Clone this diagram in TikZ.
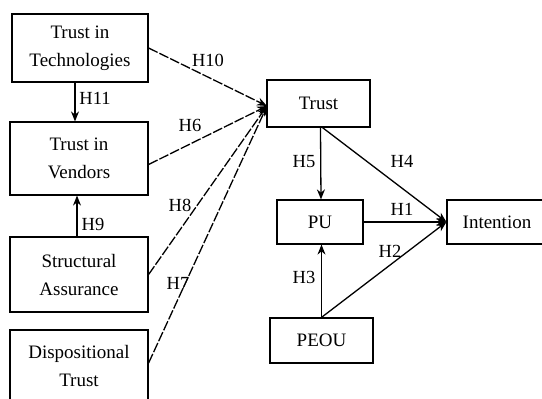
\documentclass[tikz,border=0pt]{standalone}
\usepackage{fontspec}
\setmainfont{Liberation Serif}
\usetikzlibrary{arrows.meta}
\begin{document}
\begin{tikzpicture}[x=1pt,y=-1pt,
  box/.style={draw, line width=1.2pt, align=center, inner sep=0pt,
    font=\fontsize{19}{28}\selectfont},
  hlab/.style={font=\fontsize{18.5}{20}\selectfont, inner sep=1pt},
  link/.style={line width=1.3pt, -{Stealth[length=10pt,width=8pt]}},
  dlink/.style={link, dash pattern=on 10pt off 2pt},
]
\useasboundingbox (0,0) rectangle (542,399);
\begin{scope}
\clip (0,0) rectangle (542,399);

% constructs on the trust side
\node[box, minimum width=136pt, minimum height=68pt] (tech) at (80,48) {Trust in\\Technologies};
\node[box, minimum width=138pt, minimum height=73pt] (vend) at (79,158.5) {Trust in\\Vendors};
\node[box, minimum width=138pt, minimum height=75pt] (struc) at (79,274.5) {Structural\\Assurance};
\node[box, minimum width=138pt, minimum height=72pt] (disp) at (79,366) {Dispositional\\Trust};

% core constructs
\node[box, minimum width=103pt, minimum height=47pt] (trust) at (318.5,103.5) {Trust};
\node[box, minimum width=86pt, minimum height=44pt] (pu) at (320,222) {PU};
\node[box, minimum width=103pt, minimum height=45pt] (peou) at (321.5,340.5) {PEOU};
\node[box, minimum width=100pt, minimum height=44pt] (intent) at (497,222) {Intention};

% converging arrows into Trust
\coordinate (tin) at (267,106);
\draw[dlink] (tech.east) -- (tin);
\draw[dlink] ([yshift=-6pt]vend.east) -- (tin);
\draw[dlink] (struc.east) -- (tin);
\draw[dlink] ([yshift=3pt]disp.east) -- (tin);

% links between trust constructs
\draw[link] ([xshift=-5pt]tech.south) -- ([xshift=-4pt]vend.north);
\draw[link] ([xshift=-2pt]struc.north) -- ([xshift=-2pt]vend.south);

% TAM links
\draw[link] ([xshift=2pt]trust.south) -- ([xshift=1pt]pu.south |- pu.north);
\draw[link] ([xshift=4pt]trust.south) -- (intent.west);
\draw[link] (pu.east) -- (intent.west);
\draw[link] (peou.north) -- (peou.north |- pu.south);
\draw[link] (peou.north) -- (intent.west);
\end{scope}

% hypothesis labels
\node[hlab] (h10) at (208,60) {H10};
\node[hlab] (h11) at (95,98) {H11};
\node[hlab] (h6) at (190,125) {H6};
\node[hlab] (h9) at (93,224) {H9};
\node[hlab] (h8) at (180,205) {H8};
\node[hlab] (h7) at (178,283) {H7};
\node[hlab] (h5) at (304,162) {H5};
\node[hlab] (h4) at (402,161) {H4};
\node[hlab] (h1) at (402,209) {H1};
\node[hlab] (h2) at (390,251) {H2};
\node[hlab] (h3) at (304,277) {H3};
\end{tikzpicture}
\end{document}
